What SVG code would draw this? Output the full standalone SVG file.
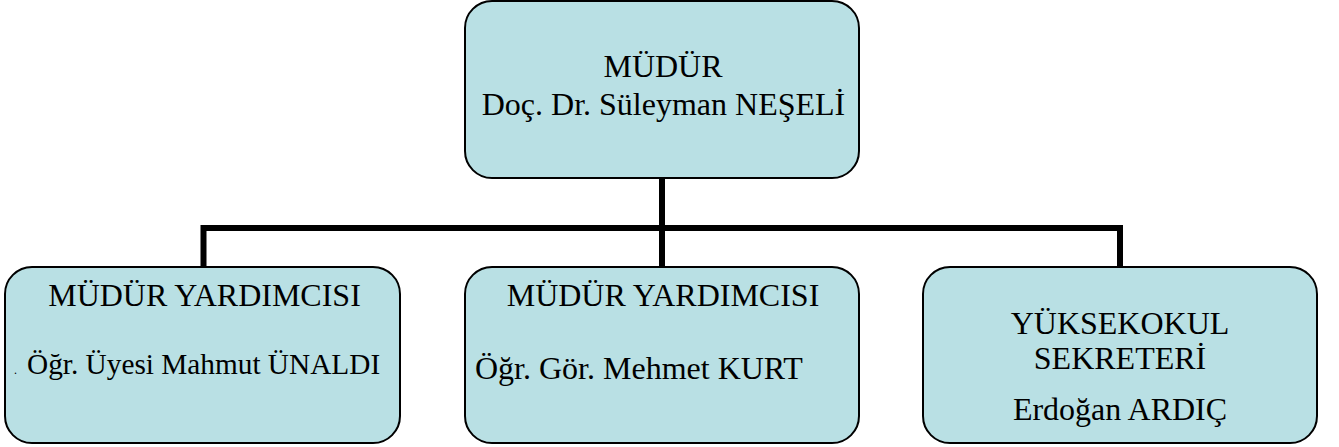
<svg xmlns="http://www.w3.org/2000/svg" width="1339" height="447" viewBox="0 0 1339 447">
<style>
.box{fill:#b9e0e4;stroke:#000;stroke-width:2}
.conn{fill:none;stroke:#000;stroke-width:6;stroke-linecap:butt;stroke-linejoin:miter}
</style>
<rect width="1339" height="447" fill="#fff"/>
<g id="connectors">
<path class="conn" d="M662,178 V267"/>
<path class="conn" d="M203.5,267 V228 H1120 V267"/>
</g>
<g font-family="Liberation Serif, Times New Roman, serif" font-size="32" fill="#000">
<g id="mudur">
<rect class="box" x="465" y="1" width="394" height="177" rx="27" ry="27"/>
<text text-anchor="middle" x="663" y="77">MÜDÜR</text>
<text text-anchor="middle" x="663.5" y="115">Doç. Dr. Süleyman NEŞELİ</text>
</g>
<g id="yardimci1">
<rect class="box" x="5" y="267" width="395" height="176" rx="27" ry="27"/>
<text text-anchor="middle" x="204.5" y="306">MÜDÜR YARDIMCISI</text>
<text x="14" y="374" font-size="12">.</text>
<text x="27" y="374" font-size="29.3">Öğr. Üyesi Mahmut ÜNALDI</text>
</g>
<g id="yardimci2">
<rect class="box" x="465" y="267" width="394" height="176" rx="27" ry="27"/>
<text text-anchor="middle" x="663" y="306">MÜDÜR YARDIMCISI</text>
<text x="475" y="379">Öğr. Gör. Mehmet KURT</text>
</g>
<g id="sekreter">
<rect class="box" x="923" y="267" width="394" height="176" rx="27" ry="27"/>
<text text-anchor="middle" x="1120" y="334">YÜKSEKOKUL</text>
<text text-anchor="middle" x="1120" y="369">SEKRETERİ</text>
<text text-anchor="middle" x="1120" y="420">Erdoğan ARDIÇ</text>
</g>
</g>
</svg>
